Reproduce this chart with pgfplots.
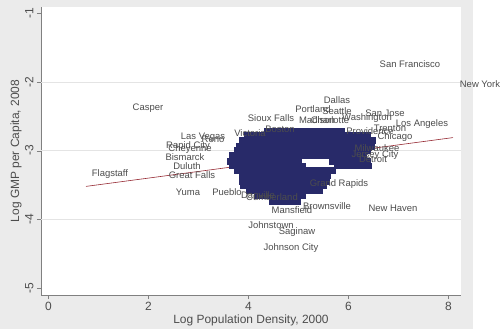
\documentclass[border=0pt]{standalone}
\usepackage{fontspec}
\setmainfont{Liberation Sans}
\usepackage{pgfplots}
\pgfplotsset{compat=1.18}
\definecolor{bggrey}{HTML}{EBEBEB}
\definecolor{navyc}{RGB}{40,42,105}
\definecolor{labgrey}{HTML}{4D4D4D}
\definecolor{axgrey}{HTML}{808080}
\definecolor{gridc}{HTML}{E4E4E4}
\definecolor{fitc}{RGB}{150,40,50}
\begin{document}
\begin{tikzpicture}
\path[use as bounding box] (0,0) rectangle (500bp,329bp);
\fill[bggrey] (0,0) rectangle (473bp,329bp);
\begin{axis}[
 at={(41bp,34bp)}, anchor=south west, scale only axis, width=420bp, height=288bp,
 xmin=-0.15, xmax=8.25, ymin=-5.1, ymax=-0.91,
 axis x line*=bottom, axis y line*=left,
 axis line style={axgrey, -},
 xtick={0,2,4,6,8}, ytick={-5,-4,-3,-2,-1},
 extra y ticks={-4,-3,-2}, extra y tick labels={},
 extra y tick style={grid=major, major tick length=0pt},
 grid style={gridc, line width=0.6pt},
 tick align=outside, major tick length=4bp,
 tick style={axgrey},
 axis background/.style={fill=white},
 clip=false,
 ticklabel style={font=\fontsize{12}{12}\selectfont, text=labgrey},
 yticklabel style={rotate=90, anchor=south},
 /pgf/number format/assume math mode=true,
 xlabel={Log Population Density, 2000},
 ylabel={Log GMP per Capita, 2008},
 label style={font=\fontsize{12}{12}\selectfont, text=labgrey},
 xlabel style={at={(axis description cs:0.5,-0.0868)}, anchor=center},
 ylabel style={at={(axis description cs:-0.0595,0.5)}, anchor=center},
]
% dense cluster of overlapping labels
\addplot[only marks, mark=square*, mark size=3.5pt,
  mark options={xscale=2.7, yscale=0.85, draw=navyc, line width=0.5pt, fill=navyc}, forget plot] table {
x y
4.50 -2.71
4.74 -2.71
4.98 -2.71
5.22 -2.71
5.46 -2.71
5.72 -2.71
4.10 -2.78
4.34 -2.78
4.58 -2.78
4.82 -2.78
5.06 -2.78
5.30 -2.78
5.54 -2.78
5.78 -2.78
6.02 -2.78
6.24 -2.78
4.00 -2.85
4.22 -2.85
4.46 -2.85
4.70 -2.85
4.94 -2.85
5.18 -2.85
5.42 -2.85
5.66 -2.85
5.90 -2.85
6.14 -2.85
6.34 -2.85
3.94 -2.93
4.16 -2.93
4.40 -2.93
4.64 -2.93
4.88 -2.93
5.12 -2.93
5.36 -2.93
5.60 -2.93
5.84 -2.93
6.08 -2.93
6.32 -2.93
3.90 -3.00
4.12 -3.00
4.36 -3.00
4.60 -3.00
4.84 -3.00
5.08 -3.00
5.32 -3.00
5.56 -3.00
5.80 -3.00
6.04 -3.00
6.24 -3.00
3.80 -3.07
4.04 -3.07
4.28 -3.07
4.52 -3.07
4.76 -3.07
5.00 -3.07
5.24 -3.07
5.48 -3.07
5.72 -3.07
5.96 -3.07
6.16 -3.07
3.76 -3.15
4.00 -3.15
4.24 -3.15
4.48 -3.15
4.72 -3.15
4.86 -3.15
5.80 -3.15
6.04 -3.15
6.24 -3.15
3.80 -3.22
4.04 -3.22
4.28 -3.22
4.52 -3.22
4.76 -3.22
4.94 -3.22
5.90 -3.22
6.14 -3.22
6.26 -3.22
3.90 -3.29
4.14 -3.29
4.38 -3.29
4.62 -3.29
4.86 -3.29
5.10 -3.29
5.34 -3.29
5.54 -3.29
4.00 -3.36
4.24 -3.36
4.48 -3.36
4.72 -3.36
4.96 -3.36
5.20 -3.36
5.44 -3.36
4.00 -3.44
4.22 -3.44
4.46 -3.44
4.70 -3.44
4.94 -3.44
5.18 -3.44
5.42 -3.44
4.02 -3.51
4.26 -3.51
4.50 -3.51
4.74 -3.51
4.98 -3.51
5.22 -3.51
5.36 -3.51
4.14 -3.58
4.38 -3.58
4.62 -3.58
4.86 -3.58
5.10 -3.58
5.28 -3.58
4.30 -3.65
4.54 -3.65
4.78 -3.65
4.94 -3.65
4.60 -3.73
4.84 -3.73
};
% named labels
\addplot[only marks, mark=none, nodes near coords, point meta=explicit symbolic,
  every node near coord/.append style={anchor=center, inner sep=0pt,
  font=\fontsize{9.5}{9.5}\selectfont, text=labgrey}] coordinates {
(1.99,-2.375) [Casper]
(7.23,-1.735) [San Francisco]
(8.63,-2.03) [New York]
(5.77,-2.26) [Dallas]
(5.29,-2.40) [Portland]
(5.77,-2.43) [Seattle]
(4.45,-2.53) [Sioux Falls]
(5.37,-2.56) [Madison]
(5.63,-2.55) [Charlotte]
(6.37,-2.53) [Washington]
(6.73,-2.46) [San Jose]
(7.47,-2.62) [Los Angeles]
(6.83,-2.68) [Trenton]
(6.43,-2.71) [Providence]
(6.93,-2.80) [Chicago]
(4.63,-2.69) [Boston]
(4.03,-2.74) [Victoria]
(3.09,-2.81) [Las Vegas]
(3.29,-2.83) [Reno]
(2.79,-2.93) [Rapid City]
(2.83,-2.97) [Cheyenne]
(2.73,-3.09) [Bismarck]
(2.77,-3.23) [Duluth]
(2.87,-3.36) [Great Falls]
(1.23,-3.34) [Flagstaff]
(2.79,-3.61) [Yuma]
(3.57,-3.60) [Pueblo]
(6.49,-3.12) [Detroit]
(6.53,-3.07) [Jersey City]
(6.57,-2.96) [Milwaukee]
(5.81,-3.49) [Grand Rapids]
(4.45,-4.09) [Johnstown]
(4.97,-4.18) [Saginaw]
(4.85,-4.42) [Johnson City]
(6.89,-3.84) [New Haven]
(4.87,-3.87) [Mansfield]
(5.57,-3.81) [Brownsville]
(4.47,-3.68) [Cumberland]
(4.19,-3.65) [Danville]
};
% fitted line
\addplot[fitc, line width=0.6pt] coordinates {(0.75,-3.52) (8.09,-2.81)};
\end{axis}
\end{tikzpicture}
\end{document}
